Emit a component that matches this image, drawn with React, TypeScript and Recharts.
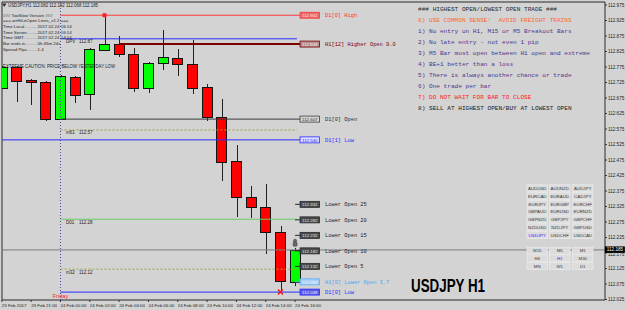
import React from "react";
import {
  ComposedChart,
  Bar,
  XAxis,
  YAxis,
  ReferenceLine,
  ReferenceDot,
  ReferenceArea,
} from "recharts";

// USDJPY H1 bars, 23 Feb 19:00 .. 24 Feb 16:00
const barTimes = [
  "23 Feb 19:00", "23 Feb 20:00", "23 Feb 21:00", "23 Feb 22:00",
  "24 Feb 00:00", "24 Feb 01:00", "24 Feb 02:00", "24 Feb 03:00",
  "24 Feb 04:00", "24 Feb 05:00", "24 Feb 06:00", "24 Feb 07:00",
  "24 Feb 08:00", "24 Feb 09:00", "24 Feb 10:00", "24 Feb 11:00",
  "24 Feb 12:00", "24 Feb 13:00", "24 Feb 14:00", "24 Feb 15:00",
  "24 Feb 16:00",
];
const opens = [
  112.707, 112.775, 112.733, 112.727, 112.607, 112.743, 112.688, 112.83,
  112.849, 112.817, 112.707, 112.788, 112.804, 112.785, 112.71, 112.614,
  112.472, 112.356, 112.323, 112.243, 112.082,
];
const highs = [
  112.778, 112.778, 112.735, 112.73, 112.748, 112.746, 112.835, 112.942,
  112.875, 112.836, 112.791, 112.894, 112.833, 112.862, 112.72, 112.672,
  112.523, 112.391, 112.398, 112.262, 112.192,
];
const lows = [
  112.704, 112.662, 112.652, 112.601, 112.604, 112.659, 112.636, 112.827,
  112.807, 112.694, 112.691, 112.765, 112.746, 112.688, 112.601, 112.407,
  112.291, 112.288, 112.172, 112.049, 112.068,
];
const closes = [
  112.775, 112.73, 112.727, 112.607, 112.746, 112.685, 112.833, 112.849,
  112.817, 112.707, 112.788, 112.807, 112.785, 112.707, 112.614, 112.469,
  112.356, 112.323, 112.243, 112.085, 112.185,
];

// time axis labels (bar index -> text)
const tickBars = [0, 2, 4, 6, 8, 10, 12, 14, 16, 18, 20];
const tickLabels = [
  "23 Feb 2017", "23 Feb 21:00", "24 Feb 00:00", "24 Feb 02:00",
  "24 Feb 04:00", "24 Feb 06:00", "24 Feb 08:00", "24 Feb 10:00",
  "24 Feb 12:00", "24 Feb 14:00", "24 Feb 16:00",
];
const priceTicks = [
  112.025, 112.075, 112.125, 112.175, 112.225, 112.275, 112.325, 112.375,
  112.425, 112.475, 112.525, 112.575, 112.625, 112.675, 112.725, 112.775,
  112.825, 112.875, 112.925, 112.975,
];

// HiLoOpen levels drawn with a price box + caption
const levelNames = [
  "D1[0] High", "H1[12] Higher Open 9.0", "D1[0] Open", "D1[1] Low",
  "Lower Open 25", "Lower Open 20", "Lower Open 15", "Lower Open 10",
  "Lower Open 5", "H1[0] Lower Open 3.7", "D1[0] Low",
];
const levelPrices = [
  112.942, 112.849, 112.607, 112.54, 112.332, 112.282, 112.232, 112.182,
  112.132, 112.082, 112.049,
];
const levelFromBar = [4, 8, 4, 0, 20, 20, 20, 20, 20, 20, 4];

// daily pivot / mid levels
const pivotNames = ["DPV", "m61", "D01", "m32"];
const pivotPrices = [112.866, 112.572, 112.284, 112.123];

const dayBreakBar = 4;
const dayBreakName = "Friday";

const titleText = "USDJPY,H1  112.082 112.192 112.068 112.185";
const infoLabels = [
  "### TooSlow Version ###",
  "=== arrHiLoOpen Lines_v1.2 ===",
  "Time Local..........",
  "Time Server.........",
  "Time GMT...........",
  "Bar ends in.........",
  "Spread Pips.........",
];
const infoValues = ["", "", "2017.02.24 16:14", "2017.02.24 16:14", "2017.02.24 14:14", "0h 45m 24s", "1.4"];
const cautionText = "EXTREME CAUTION: PRICE BELOW YESTERDAY LOW";

const rules = [
  "### HIGHEST OPEN/LOWEST OPEN TRADE ###",
  "0) USE COMMON SENSE!  AVOID FREIGHT TRAINS",
  "1) No entry on H1, M15 or M5 Breakout Bars",
  "2) No late entry - not even 1 pip",
  "3) M5 Bar must open between H1 open and extreme",
  "4) BE+1 better than a loss",
  "5) There is always another chance or trade",
  "6) One trade per bar",
  "7) DO NOT WAIT FOR BAR TO CLOSE",
  "8) SELL AT HIGHEST OPEN/BUY AT LOWEST OPEN",
];

const pairs = [
  ["AUDUSD", "AUDNZD", "AUDJPY"],
  ["EURCAD", "EURAUD", "CADJPY"],
  ["EURJPY", "EURGBP", "EURCHF"],
  ["GBPAUD", "EURUSD", "EURNZD"],
  ["GBPNZD", "GBPJPY", "GBPCHF"],
  ["NZDUSD", "NZDJPY", "GBPUSD"],
  ["USDJPY", "USDCHF", "USDCAD"],
];
const frames = [
  ["M15", "M5", "M1"],
  ["H4", "H1", "M30"],
  ["MN", "W1", "D1"],
];
const activeButtons = ["USDJPY", "H1"];

// ---- styles ----
const BG = "#d3d3d3";
const MONO = "'Liberation Mono', 'DejaVu Sans Mono', monospace";
const SANS = "'Liberation Sans', Arial, sans-serif";
const ruleColors = ["#2a2a2a", "#ff6633", "#4e3590", "#4e3590", "#4e3590", "#4e3590", "#4e3590", "#4e3590", "#ff2020", "#1a1a1a"];
const levelLine = ["#ff3b3b", "#7a0000", "#3c3c3c", "#2b2bff", "#2a2a2a", "#2a2a2a", "#2a2a2a", "#2a2a2a", "#2a2a2a", "#5aaaf5", "#2b2bff"];
const levelText = ["#ff3030", "#800000", "#2e2e2e", "#2b2bff", "#222", "#222", "#222", "#222", "#222", "#4fa3f5", "#2b2bff"];
const boxFill = ["#e86868", "#b89090", "#d6d6d6", "#dcdcff", "#4a4a4a", "#4a4a4a", "#4a4a4a", "#4a4a4a", "#4a4a4a", "#a9cff5", "#5a5aea"];
const boxInk = ["#ffe6e6", "#f4e4e4", "#303030", "#2b2bff", "#e4e4e4", "#e4e4e4", "#e4e4e4", "#e4e4e4", "#e4e4e4", "#eef6ff", "#eeeeff"];
const pivotColors = ["#2b2bff", "#a3a33c", "#66cc66", "#a3a33c"];
const pivotDash = [undefined, "2 2", undefined, "2 2"];

const X_DOMAIN: [number, number] = [0.011, 41.14];
const Y_DOMAIN: [number, number] = [112.0235, 112.9847];
const LINE_END = 20.34; // where the level lines meet their price box
const PIVOT_END = 20.13;

const candles = barTimes.map((t, i) => ({
  i,
  time: t,
  open: opens[i],
  high: highs[i],
  low: lows[i],
  close: closes[i],
  range: [lows[i], highs[i]],
}));

function Candle(props: any) {
  const { x, y, width, height, payload } = props;
  if (!payload || height == null) return null;
  const span = payload.high - payload.low;
  const k = span > 0 ? height / span : 0;
  const py = (v: number) => y + (payload.high - v) * k;
  const up = payload.close >= payload.open;
  const top = py(Math.max(payload.open, payload.close));
  const bot = py(Math.min(payload.open, payload.close));
  const cx = Math.round(x + width / 2) + 0.5;
  return (
    <g shapeRendering="crispEdges">
      <line x1={cx} x2={cx} y1={y} y2={y + height} stroke="#222" />
      <rect
        x={Math.round(x) + 0.5}
        y={Math.round(top) + 0.5}
        width={Math.round(width) - 1}
        height={Math.max(1, Math.round(bot - top))}
        fill={up ? "#00ff00" : "#ff0000"}
        stroke="#151515"
      />
    </g>
  );
}

const XTick = (p: any) => {
  const k = tickBars.indexOf(p.payload.value);
  if (k < 0) return null;
  return (
    <text x={p.x} y={p.y + 3} fontSize={4.4} fill="#222" fontFamily={SANS}>
      {tickLabels[k]}
    </text>
  );
};

// the 112.175 label sits just under the live price box, as in MT4
const YTick = (p: any) => {
  const v = Number(p.payload.value);
  const nudge = Math.abs(v - closes[closes.length - 1]) < 0.02 ? 1.6 : 0;
  return (
    <text x={p.x - 1} y={p.y + 1.7 + nudge} fontSize={4.6} fill="#222" fontFamily={SANS}>
      {v.toFixed(3)}
    </text>
  );
};

const levelBox = (k: number) => (p: any) => {
  const { cx, cy } = p;
  if (cx == null) return <g />;
  return (
    <g>
      <rect x={cx} y={cy - 3} width={19.5} height={6} fill={boxFill[k]} stroke={levelLine[k]} strokeWidth={0.8} />
      <text x={cx + 9.75} y={cy + 1.7} textAnchor="middle" fontSize={4.4} fill={boxInk[k]} fontFamily={SANS}>
        {levelPrices[k].toFixed(3)}
      </text>
      <text x={cx + 25} y={cy + 1.8} fontSize={5.35} fill={levelText[k]} fontFamily={MONO}>
        {levelNames[k]}
      </text>
    </g>
  );
};

const pivotText = (k: number) => (p: any) => {
  const { cx, cy } = p;
  if (cx == null) return <g />;
  return (
    <g fontSize={4.5} fill="#222" fontFamily={SANS}>
      <text x={cx + 5.5} y={cy + 4.5}>{pivotNames[k]}</text>
      <text x={cx + 18.5} y={cy + 4.5}>{pivotPrices[k].toFixed(2)}</text>
    </g>
  );
};

function Overlay() {
  const colX = [527, 549.5, 572.5];
  const btn = (txt: string, x: number, cy: number) => (
    <g key={txt + x + cy}>
      <rect x={x} y={cy - 3.5} width={20.5} height={7} fill="#dcdcdc" stroke="#ececec" strokeWidth={0.7} />
      <text x={x + 10.25} y={cy + 1.6} textAnchor="middle" fontSize={4.4} fontFamily={SANS}
        fill={activeButtons.includes(txt) ? "#2b2bff" : "#3a3a3a"}>
        {txt}
      </text>
    </g>
  );
  return (
    <svg width={625} height={310} style={{ position: "absolute", left: 0, top: 0, pointerEvents: "none" }}>
      {/* chart title */}
      <path d="M2 3.5 L6.5 3.5 L4.25 7 Z" fill="#333" />
      <text x={8} y={6.8} fontSize={4.6} fill="#222" fontFamily={SANS} textLength={90} lengthAdjust="spacingAndGlyphs">
        {titleText}
      </text>
      {/* indicator info block */}
      {infoLabels.map((t, k) => {
        const cy = [15.6, 20.7, 26.7, 32.3, 37.7, 43.3, 49][k];
        return (
          <g key={t} fontSize={4.4} fill="#222" fontFamily={SANS}>
            <text x={3} y={cy + 1.6}>{t}</text>
            {infoValues[k] && <text x={37.5} y={cy + 1.6}>{infoValues[k]}</text>}
          </g>
        );
      })}
      <text x={3} y={67.6} fontSize={5} fill="#1e1e1e" fontFamily={SANS} textLength={112} lengthAdjust="spacingAndGlyphs">
        {cautionText}
      </text>
      {/* trading rules */}
      {rules.map((t, k) => (
        <text key={t} x={418} y={11.4 + k * 11} fontSize={6.1} fill={ruleColors[k]} fontFamily={MONO} xmlSpace="preserve">
          {t}
        </text>
      ))}
      {/* symbol / timeframe buttons */}
      {pairs.map((row, r) => row.map((s, c) => btn(s, colX[c], 188.3 + r * 7.8)))}
      {frames.map((row, r) => row.map((s, c) => btn(s, colX[c], 250.7 + r * 7.6)))}
      <text x={411} y={291.5} fontSize={19} fontWeight="bold" fill="#000" fontFamily="'Liberation Sans Narrow', 'Liberation Sans', Arial, sans-serif"
        textLength={74} lengthAdjust="spacingAndGlyphs">
        USDJPY H1
      </text>
    </svg>
  );
}

export default function App() {
  const last = closes[closes.length - 1];
  return (
    <div style={{ position: "absolute", left: 0, top: 0, width: 625, height: 310, background: BG, overflow: "hidden" }}>
      <ComposedChart width={625} height={310} data={candles} margin={{ top: 2, right: 0, left: 2, bottom: 0 }}>
        <XAxis
          type="number"
          dataKey="i"
          domain={X_DOMAIN}
          allowDataOverflow
          ticks={tickBars}
          interval={0}
          height={10}
          tickSize={2}
          axisLine={false}
          tickLine={{ stroke: "#333" }}
          tick={<XTick />}
        />
        <YAxis
          orientation="right"
          type="number"
          domain={Y_DOMAIN}
          allowDataOverflow
          ticks={priceTicks}
          interval={0}
          width={20}
          tickSize={2}
          axisLine={false}
          tickLine={{ stroke: "#333" }}
          tick={<YTick />}
        />
        <ReferenceArea x1={X_DOMAIN[0]} x2={X_DOMAIN[1]} y1={Y_DOMAIN[0]} y2={Y_DOMAIN[1]} fill="none" stroke="#2a2a2a" strokeWidth={1} />
        {/* day separator */}
        <ReferenceLine x={dayBreakBar} stroke="#4a4aa8" strokeDasharray="1 2" />
        <ReferenceDot x={dayBreakBar} y={Y_DOMAIN[0] + 0.003} r={0} ifOverflow="visible"
          shape={(p: any) => (
            <text x={p.cx} y={p.cy - 1} textAnchor="middle" fontSize={5.6} fill="#ff2020" fontFamily={SANS}>{dayBreakName}</text>
          )}
        />
        {/* current price */}
        <ReferenceLine y={last} stroke="#7c7c7c" />
        {/* pivots */}
        {pivotPrices.map((p, k) => (
          <ReferenceLine key={"pv" + k}
            segment={[{ x: dayBreakBar, y: p }, { x: PIVOT_END, y: p }]}
            stroke={pivotColors[k]} strokeDasharray={pivotDash[k]} />
        ))}
        {pivotPrices.map((p, k) => (
          <ReferenceDot key={"pt" + k} x={dayBreakBar} y={p} r={0} shape={pivotText(k)} />
        ))}
        {/* HiLoOpen levels */}
        {levelPrices.map((p, k) => (
          <ReferenceLine key={"lv" + k}
            segment={[{ x: Math.max(levelFromBar[k], 0.02), y: p }, { x: LINE_END, y: p }]}
            stroke={levelLine[k]} strokeWidth={k === 1 ? 2 : 1} />
        ))}
        <Bar dataKey="range" barSize={11} shape={<Candle />} isAnimationActive={false} />
        {levelPrices.map((p, k) => (
          <ReferenceDot key={"lb" + k} x={LINE_END} y={p} r={0} shape={levelBox(k)} />
        ))}
        {/* day high marker, day low cross, alert bell */}
        <ReferenceDot x={7} y={highs[7]} r={0}
          shape={(p: any) => <rect x={p.cx - 2} y={p.cy - 2} width={4} height={4} fill="#ff2020" />} />
        <ReferenceDot x={19} y={lows[19]} r={0}
          shape={(p: any) => (
            <g stroke="#ff1010" strokeWidth={1.4}>
              <line x1={p.cx - 2.5} y1={p.cy - 2.5} x2={p.cx + 2.5} y2={p.cy + 2.5} />
              <line x1={p.cx - 2.5} y1={p.cy + 2.5} x2={p.cx + 2.5} y2={p.cy - 2.5} />
            </g>
          )} />
        <ReferenceDot x={20} y={highs[20]} r={0}
          shape={(p: any) => (
            <g fill="#6a6a6a" stroke="#333" strokeWidth={0.5}>
              <circle cx={p.cx} cy={p.cy - 7} r={1.6} />
              <rect x={p.cx - 2} y={p.cy - 5.5} width={4} height={4} rx={1} />
            </g>
          )} />
        <ReferenceDot x={X_DOMAIN[1] - 0.01} y={last} r={0}
          shape={(p: any) => (
            <g>
              <rect x={p.cx} y={p.cy - 3.5} width={20} height={6.5} fill="#000" />
              <text x={p.cx + 2} y={p.cy + 1.4} fontSize={4.6} fill="#fff" fontFamily={SANS}>{last.toFixed(3)}</text>
            </g>
          )} />
      </ComposedChart>
      <Overlay />
    </div>
  );
}
